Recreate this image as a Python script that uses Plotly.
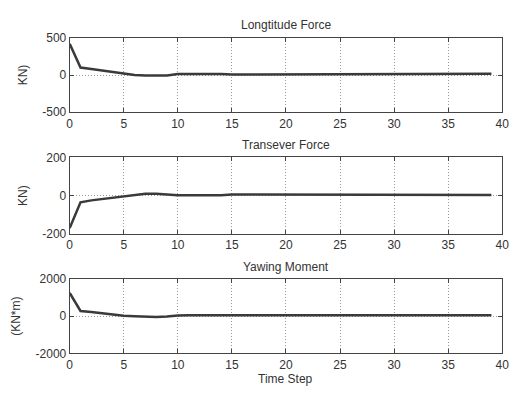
import plotly.graph_objects as go

# Time steps and response series
steps = list(range(40))
longitude_force = [420, 100, 80, 60, 40, 20, 0, -8, -8, -5, 12, 14, 14, 14, 14, 6, 6, 6, 6, 10,
                   14, 14, 14, 12, 6, 6, 6, 6, 12, 14, 14, 14, 12, 6, 6, 6, 6, 14, 16, 16]
transverse_force = [-170, -35, -25, -18, -10, -2, 5, 10, 10, 6, 2, 2, 2, 2, 2, 6, 6, 6, 4, 3,
                    3, 3, 3, 3, 6, 6, 6, 4, 3, 3, 3, 3, 3, 6, 6, 6, 4, 3, 3, 3]
yawing_moment = [1250, 280, 220, 150, 80, 30, 0, -40, -40, -20, 40, 45, 45, 45, 40, 20, 20, 20, 25, 45,
                 50, 50, 50, 45, 20, 20, 20, 25, 45, 50, 50, 50, 45, 20, 20, 20, 25, 50, 55, 55]

x_ticks = list(range(0, 41, 5))

panels = [
    ("Longtitude Force", "KN)", longitude_force, [-500, 500], [-500, 0, 500], ["-500", "0", "500"]),
    ("Transever Force", "KN)", transverse_force, [-200, 200], [-200, 0, 200], ["-200", "0", "200"]),
    ("Yawing Moment", "(KN*m)", yawing_moment, [-2000, 2000], [-2000, 0, 2000], ["-2000", "0", "2000"]),
]

W, H = 521, 397
x0, x1 = 68, 509
rows_px = [(32, 109), (156, 235), (282, 359)]

fig = go.Figure()
font = dict(family="Liberation Sans, Arial, sans-serif", size=12, color="#333333")
grid_style = dict(showgrid=True, gridcolor="#999999", griddash="1px,2px", gridwidth=1,
                  zeroline=False, showline=True, linecolor="#444444", linewidth=1,
                  mirror="ticks", ticks="inside", ticklen=4, tickcolor="#444444", tickfont=font)

for i, ((title, ylab, vals, yr, yt, ytt), (top, bot)) in enumerate(zip(panels, rows_px)):
    n = "" if i == 0 else str(i + 1)
    fig.add_trace(go.Scatter(x=steps, y=vals, mode="lines",
                             line=dict(color="#3a3a3a", width=2.5),
                             xaxis="x" + n, yaxis="y" + n, showlegend=False))
    ydom = [1 - bot / H, 1 - top / H]
    fig.update_layout(**{
        "xaxis" + n: dict(domain=[x0 / W, x1 / W], range=[0, 40], tickvals=x_ticks,
                          anchor="y" + n, **grid_style),
        "yaxis" + n: dict(domain=ydom, range=yr, tickvals=yt, ticktext=ytt, anchor="x" + n,
                          title=dict(text=ylab, font=font, standoff=12), **grid_style),
    })
    fig.add_annotation(text=title, x=(x0 + x1) / 2 / W, y=1 - (top - 13) / H,
                       xref="paper", yref="paper", showarrow=False, font=font,
                       xanchor="center", yanchor="middle")

fig.add_annotation(text="Time Step", x=(x0 + x1) / 2 / W, y=1 - 386 / H,
                   xref="paper", yref="paper", showarrow=False, font=font,
                   xanchor="center", yanchor="middle")

fig.update_layout(width=W, height=H, margin=dict(l=0, r=0, t=0, b=0),
                  paper_bgcolor="white", plot_bgcolor="white")

fig.write_html("out.html")
